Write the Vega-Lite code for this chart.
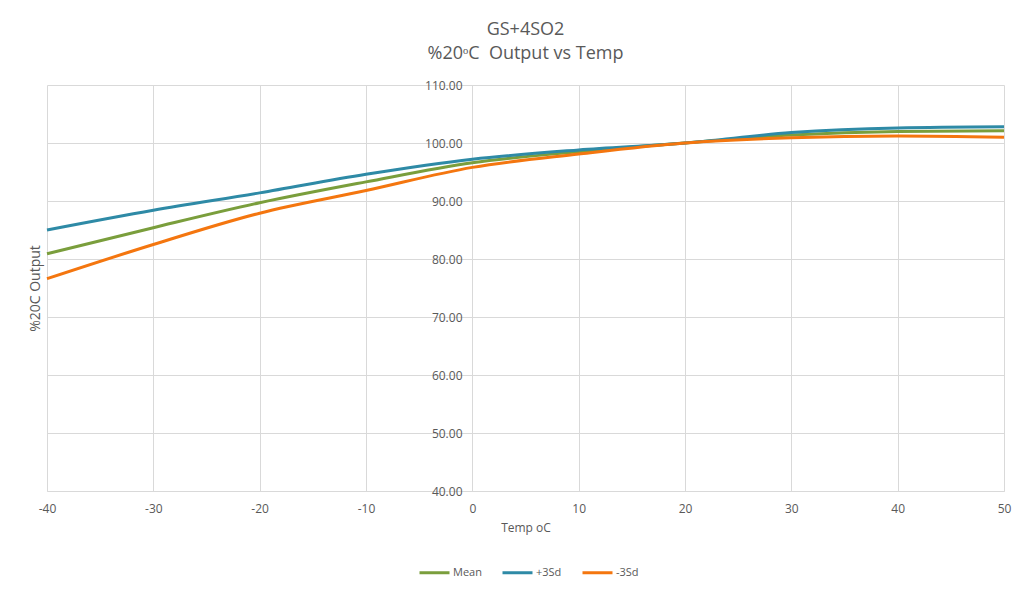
{
  "$schema": "https://vega.github.io/schema/vega-lite/v6.json",
  "width": 957,
  "height": 406,
  "autosize": {"type": "none"},
  "padding": {"left": 47, "top": 85, "right": 29, "bottom": 101},
  "background": "white",
  "title": {
    "text": ["GS+4SO2", "%20ᵒC\u00a0 Output vs Temp"],
    "font": "Open Sans",
    "fontSize": 18,
    "fontWeight": "normal",
    "color": "#595959",
    "lineHeight": 24,
    "anchor": "middle",
    "offset": 16
  },
  "config": {
    "font": "Open Sans",
    "view": {"stroke": null},
    "axis": {
      "labelColor": "#595959",
      "titleColor": "#595959",
      "labelFont": "Open Sans",
      "titleFont": "Open Sans",
      "labelFontSize": 12,
      "titleFontSize": 12,
      "titleFontWeight": "normal",
      "gridColor": "#d9d9d9",
      "gridWidth": 1
    }
  },
  "data": {
    "values": [
      {"t": -40, "s": "Mean", "v": 80.9},
      {"t": -30, "s": "Mean", "v": 85.4},
      {"t": -20, "s": "Mean", "v": 89.7},
      {"t": -10, "s": "Mean", "v": 93.3},
      {"t": 0, "s": "Mean", "v": 96.6},
      {"t": 10, "s": "Mean", "v": 98.5},
      {"t": 20, "s": "Mean", "v": 100.0},
      {"t": 30, "s": "Mean", "v": 101.4},
      {"t": 40, "s": "Mean", "v": 102.0},
      {"t": 50, "s": "Mean", "v": 102.1},
      {"t": -40, "s": "+3Sd", "v": 85.0},
      {"t": -30, "s": "+3Sd", "v": 88.4},
      {"t": -20, "s": "+3Sd", "v": 91.4},
      {"t": -10, "s": "+3Sd", "v": 94.6},
      {"t": 0, "s": "+3Sd", "v": 97.2},
      {"t": 10, "s": "+3Sd", "v": 98.8},
      {"t": 20, "s": "+3Sd", "v": 100.0},
      {"t": 30, "s": "+3Sd", "v": 101.8},
      {"t": 40, "s": "+3Sd", "v": 102.6},
      {"t": 50, "s": "+3Sd", "v": 102.8},
      {"t": -40, "s": "-3Sd", "v": 76.6},
      {"t": -30, "s": "-3Sd", "v": 82.5},
      {"t": -20, "s": "-3Sd", "v": 87.9},
      {"t": -10, "s": "-3Sd", "v": 91.8},
      {"t": 0, "s": "-3Sd", "v": 95.8},
      {"t": 10, "s": "-3Sd", "v": 98.1},
      {"t": 20, "s": "-3Sd", "v": 100.0},
      {"t": 30, "s": "-3Sd", "v": 100.9},
      {"t": 40, "s": "-3Sd", "v": 101.2},
      {"t": 50, "s": "-3Sd", "v": 101.0}
    ]
  },
  "mark": {"type": "line", "interpolate": "monotone", "strokeWidth": 3},
  "encoding": {
    "x": {
      "field": "t",
      "type": "quantitative",
      "scale": {"domain": [-40, 50], "nice": false},
      "axis": {
        "values": [-40, -30, -20, -10, 0, 10, 20, 30, 40, 50],
        "labelExpr": "datum.value < 0 ? '-' + abs(datum.value) : '' + datum.value",
        "labelFlush": false,
        "title": "Temp oC",
        "ticks": false,
        "domainColor": "#d9d9d9",
        "labelPadding": 12,
        "titlePadding": 8
      }
    },
    "y": {
      "field": "v",
      "type": "quantitative",
      "scale": {"domain": [40, 110], "nice": false, "zero": false},
      "axis": {
        "values": [40, 50, 60, 70, 80, 90, 100, 110],
        "format": ".2f",
        "title": "%20C Output",
        "titleFontSize": 14,
        "offset": -425,
        "domain": false,
        "ticks": false,
        "labelPadding": 10,
        "titleX": -430,
        "titleY": 203,
        "titleAnchor": "middle"
      }
    },
    "color": {
      "field": "s",
      "type": "nominal",
      "sort": ["Mean", "+3Sd", "-3Sd"],
      "scale": {"domain": ["Mean", "+3Sd", "-3Sd"], "range": ["#7A9E3C", "#2E8AA6", "#F4760F"]},
      "legend": {
        "title": null,
        "orient": "none",
        "legendX": 371,
        "legendY": 471,
        "direction": "horizontal",
        "symbolType": "stroke",
        "symbolSize": 900,
        "symbolStrokeWidth": 3,
        "labelFont": "Open Sans",
        "labelFontSize": 11,
        "labelColor": "#595959",
        "labelOffset": 2,
        "columnPadding": 14
      }
    }
  }
}
